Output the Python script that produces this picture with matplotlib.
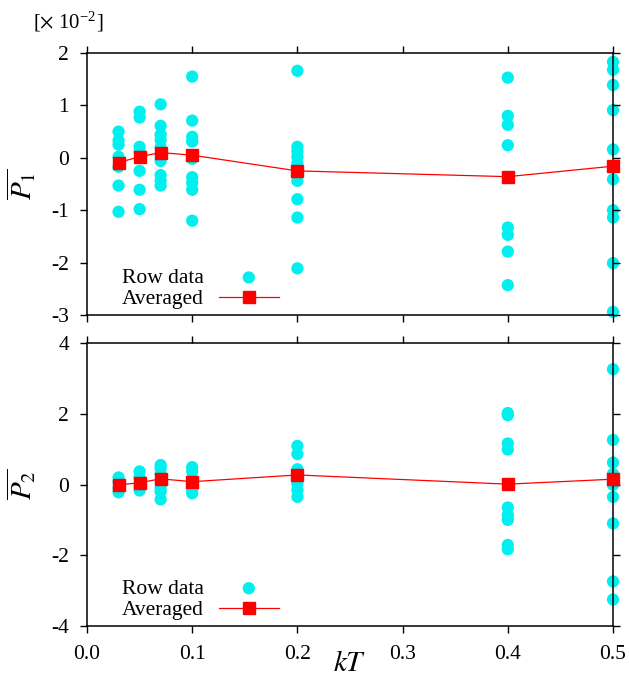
# P1 / P2 vs kT, raw samples and their averages

import numpy as np
import matplotlib
matplotlib.use('Agg')
import matplotlib.pyplot as plt

plt.rcParams['font.family'] = ['Liberation Serif', 'DejaVu Serif']
plt.rcParams['mathtext.fontset'] = 'stix'
plt.rcParams['axes.unicode_minus'] = False

# --- data (P1 in units of 1e-2) ---
kT = [0.03, 0.05, 0.07, 0.1, 0.2, 0.4, 0.5]

p1_raw = [
    [0.50, 0.33, 0.25, 0.02, -0.17, -0.53, -1.03],
    [0.88, 0.77, 0.21, 0.12, -0.25, -0.61, -0.98],
    [1.02, 0.61, 0.44, 0.34, 0.20, -0.06, -0.33, -0.44, -0.53],
    [1.55, 0.71, 0.40, 0.31, -0.02, -0.37, -0.48, -0.61, -1.20],
    [1.66, 0.21, 0.12, 0.02, -0.10, -0.44, -0.79, -1.14, -2.11],
    [1.53, 0.80, 0.63, 0.24, -1.33, -1.47, -1.79, -2.43],
    [1.83, 1.68, 1.39, 0.91, 0.16, -0.41, -1.00, -1.14, -2.01, -2.94],
]
p1_avg = [-0.09, 0.02, 0.10, 0.05, -0.25, -0.36, -0.16]

p2_raw = [
    [0.20, 0.08, -0.10, -0.22],
    [0.37, 0.20, -0.05, -0.17],
    [0.55, 0.45, 0.30, -0.10, -0.20, -0.42],
    [0.49, 0.37, 0.15, -0.15, -0.25],
    [1.09, 0.86, 0.43, 0.15, 0.02, -0.16, -0.35],
    [2.02, 1.96, 1.16, 0.99, -0.65, -0.86, -1.00, -1.71, -1.83],
    [3.26, 1.26, 0.62, 0.30, -0.01, -0.35, -1.10, -2.74, -3.25],
]
p2_avg = [-0.01, 0.05, 0.16, 0.08, 0.27, 0.01, 0.15]

x_ticks = [0.0, 0.1, 0.2, 0.3, 0.4, 0.5]

fig = plt.figure(figsize=(6.29, 6.79), dpi=100)
W, H = 629, 679
ax1 = fig.add_axes([87 / W, 1 - 315 / H, 526 / W, 262 / H])
ax2 = fig.add_axes([87 / W, 1 - 626 / H, 526 / W, 283 / H])


def draw_panel(ax, raw, avg, ylim, yticks, ylabel, leg_y):
    xs = np.concatenate([[k] * len(v) for k, v in zip(kT, raw)])
    ys = np.concatenate(raw)
    ax.scatter(xs, ys, s=78, color='#00f0f0', edgecolors='none',
               clip_on=False, zorder=1, label='Row data')
    ax.plot(kT, avg, color='red', lw=0.9, marker='s', ms=8.5,
            clip_on=False, zorder=3, label='Averaged')
    ax.set_xlim(0, 0.5)
    ax.set_ylim(*ylim)
    ax.set_xticks(x_ticks)
    ax.set_yticks(yticks)
    ax.tick_params(direction='out', length=5, width=1, labelsize=15.5,
                   top=True, right=True, labelright=False)
    ax.tick_params(axis='y', pad=8)
    ax.tick_params(axis='x', pad=9)
    for sp in ax.spines.values():
        sp.set_linewidth(1.1)
    ax.set_ylabel(ylabel, fontsize=21, labelpad=9)
    ax.legend(loc='lower left', bbox_to_anchor=(0.066, leg_y), frameon=False,
              markerfirst=False, handlelength=2.8, handletextpad=0.7,
              labelspacing=0.05, fontsize=15.5, borderpad=0,
              borderaxespad=0, scatterpoints=1)


draw_panel(ax1, p1_raw, p1_avg, (-3, 2), [-3, -2, -1, 0, 1, 2],
           r'$\overline{P_1}$', 0.022)
draw_panel(ax2, p2_raw, p2_avg, (-4, 4), [-4, -2, 0, 2, 4],
           r'$\overline{P_2}$', 0.021)

ax1.tick_params(labelbottom=False)
ax2.set_xticklabels(['0.0', '0.1', '0.2', '0.3', '0.4', '0.5'])
ax2.set_xlabel(r'$kT$', fontsize=21, labelpad=-9.5)

fig.text(33 / W, 1 - 22 / H, r'[$\times$ 10$^{\mathregular{-2}}$]',
         fontsize=15, ha='left', va='center')

fig.savefig('out.png', dpi=100)
plt.close(fig)
